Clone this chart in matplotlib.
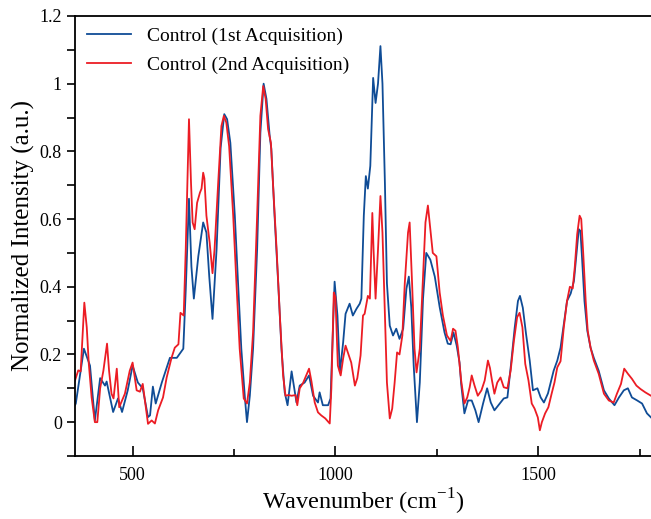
import matplotlib
matplotlib.use("Agg")
import matplotlib.pyplot as plt
from matplotlib.ticker import MultipleLocator, FormatStrFormatter

plt.rcParams['font.family'] = ['Liberation Serif', 'DejaVu Serif']
plt.rcParams['mathtext.fontset'] = 'custom'
plt.rcParams['mathtext.rm'] = 'Liberation Serif'

# spectra (wavenumber, normalized intensity)
wn_1st = [358, 360, 380, 395, 407, 420, 432, 436, 452, 464, 474, 488, 500, 513, 525, 538, 543,
          550, 557, 572, 592, 609, 625, 631, 639, 645, 651, 662, 674, 682, 689, 697, 707, 717,
          726, 733, 741, 752, 760, 768, 777, 782, 789, 797, 807, 815, 823, 830, 838, 842, 850,
          859, 867, 875, 882, 892, 904, 912, 924, 935, 945, 957, 961, 969, 982, 988, 997, 998,
          1005, 1011, 1019, 1025, 1035, 1043, 1052, 1060, 1064, 1070, 1075, 1080, 1086, 1093,
          1099, 1105, 1111, 1116, 1122, 1127, 1134, 1142, 1150, 1158, 1167, 1175, 1181, 1187,
          1193, 1201, 1208, 1216, 1224, 1234, 1245, 1257, 1269, 1277, 1284, 1291, 1299, 1306,
          1310, 1318, 1327, 1336, 1345, 1353, 1364, 1374, 1383, 1392, 1405, 1415, 1424, 1433,
          1442, 1450, 1455, 1462, 1470, 1479, 1487, 1498, 1506, 1514, 1524, 1538, 1547, 1555,
          1563, 1571, 1580, 1588, 1595, 1600, 1604, 1608, 1614, 1621, 1629, 1637, 1649, 1662,
          1674, 1688, 1699, 1711, 1721, 1731, 1744, 1756, 1768, 1778]
int_1st = [0.05, 0.055, 0.217, 0.167, 0.005, 0.13, 0.108, 0.12, 0.03, 0.07, 0.03, 0.094, 0.167,
           0.117, 0.1, 0.015, 0.02, 0.105, 0.055, 0.117, 0.19, 0.19, 0.217, 0.39, 0.66, 0.46,
           0.365, 0.49, 0.59, 0.56, 0.43, 0.305, 0.51, 0.81, 0.91, 0.895, 0.825, 0.61, 0.41,
           0.217, 0.07, 0.0, 0.078, 0.217, 0.51, 0.855, 1.0, 0.955, 0.845, 0.807, 0.61, 0.41,
           0.217, 0.088, 0.05, 0.15, 0.058, 0.108, 0.117, 0.138, 0.078, 0.058, 0.088, 0.05, 0.05,
           0.07, 0.38, 0.415, 0.315, 0.147, 0.235, 0.32, 0.35, 0.315, 0.335, 0.35, 0.365, 0.61,
           0.727, 0.69, 0.757, 1.017, 0.943, 1.0, 1.111, 1.0, 0.707, 0.41, 0.285, 0.256, 0.276,
           0.246, 0.276, 0.394, 0.43, 0.34, 0.167, 0.0, 0.117, 0.365, 0.5, 0.48, 0.43, 0.34,
           0.265, 0.232, 0.23, 0.265, 0.226, 0.176, 0.113, 0.026, 0.064, 0.064, 0.035, 0.0,
           0.055, 0.1, 0.058, 0.035, 0.055, 0.07, 0.073, 0.172, 0.279, 0.358, 0.373, 0.338,
           0.26, 0.182, 0.094, 0.1, 0.073, 0.058, 0.085, 0.152, 0.182, 0.22, 0.29, 0.358, 0.38,
           0.417, 0.507, 0.57, 0.565, 0.485, 0.358, 0.27, 0.22, 0.19, 0.152, 0.094, 0.07, 0.05,
           0.073, 0.094, 0.1, 0.073, 0.064, 0.055, 0.026, 0.014]

wn_2nd = [358, 366, 372, 381, 387, 392, 399, 407, 413, 420, 428, 437, 442, 448, 453, 461, 467,
          481, 493, 500, 510, 518, 525, 533, 538, 547, 555, 563, 575, 584, 596, 604, 613, 618,
          626, 631, 639, 644, 648, 653, 659, 666, 670, 674, 677, 682, 690, 697, 702, 711, 719,
          725, 731, 738, 748, 756, 764, 774, 782, 789, 797, 807, 815, 822, 828, 834, 841, 846,
          855, 863, 871, 877, 884, 892, 902, 906, 912, 920, 928, 935, 941, 949, 957, 965, 975,
          986, 990, 996, 1000, 1006, 1013, 1019, 1025, 1033, 1039, 1048, 1054, 1062, 1068,
          1072, 1080, 1085, 1091, 1094, 1099, 1105, 1111, 1116, 1122, 1127, 1134, 1140, 1146,
          1152, 1158, 1165, 1171, 1179, 1183, 1189, 1195, 1200, 1208, 1216, 1222, 1228, 1234,
          1240, 1249, 1257, 1265, 1275, 1284, 1290, 1296, 1302, 1310, 1318, 1325, 1331, 1336,
          1343, 1351, 1360, 1368, 1376, 1381, 1386, 1392, 1399, 1407, 1415, 1424, 1432, 1440,
          1448, 1454, 1461, 1468, 1476, 1484, 1491, 1499, 1504, 1509, 1517, 1525, 1533, 1540,
          1547, 1555, 1563, 1571, 1578, 1585, 1590, 1596, 1602, 1606, 1611, 1617, 1622, 1629,
          1637, 1649, 1662, 1674, 1686, 1694, 1704, 1712, 1721, 1731, 1742, 1752, 1764, 1778]
int_2nd = [0.123, 0.153, 0.15, 0.353, 0.28, 0.173, 0.073, 0.0, 0.0, 0.1, 0.152, 0.232, 0.152,
           0.084, 0.07, 0.158, 0.044, 0.084, 0.152, 0.176, 0.094, 0.09, 0.113, 0.04, -0.005,
           0.005, -0.004, 0.035, 0.073, 0.132, 0.19, 0.22, 0.23, 0.323, 0.315, 0.51, 0.895,
           0.707, 0.59, 0.57, 0.648, 0.678, 0.69, 0.737, 0.72, 0.61, 0.53, 0.44, 0.51, 0.707,
           0.875, 0.905, 0.885, 0.815, 0.61, 0.41, 0.217, 0.07, 0.055, 0.117, 0.265, 0.61,
           0.905, 0.993, 0.955, 0.866, 0.825, 0.707, 0.51, 0.315, 0.138, 0.078, 0.08, 0.078,
           0.08, 0.05, 0.1, 0.115, 0.138, 0.158, 0.12, 0.058, 0.029, 0.02, 0.011, -0.004, 0.1,
           0.383, 0.37, 0.167, 0.138, 0.188, 0.226, 0.197, 0.176, 0.108, 0.13, 0.197, 0.315,
           0.32, 0.373, 0.365, 0.618, 0.51, 0.365, 0.51, 0.668, 0.56, 0.315, 0.117, 0.011, 0.04,
           0.117, 0.206, 0.2, 0.256, 0.41, 0.56, 0.59, 0.41, 0.217, 0.147, 0.217, 0.43, 0.59,
           0.64, 0.57, 0.5, 0.49, 0.383, 0.315, 0.256, 0.24, 0.276, 0.27, 0.22, 0.123, 0.055,
           0.073, 0.103, 0.138, 0.108, 0.078, 0.094, 0.123, 0.182, 0.16, 0.123, 0.084, 0.117,
           0.132, 0.103, 0.1, 0.152, 0.24, 0.31, 0.323, 0.28, 0.172, 0.123, 0.055, 0.04, 0.014,
           -0.024, 0.0, 0.026, 0.044, 0.084, 0.117, 0.162, 0.18, 0.28, 0.358, 0.4, 0.395,
           0.457, 0.555, 0.61, 0.6, 0.497, 0.358, 0.27, 0.22, 0.182, 0.143, 0.084, 0.064, 0.058,
           0.084, 0.113, 0.158, 0.143, 0.128, 0.108, 0.098, 0.088, 0.078]

fig = plt.figure(figsize=(6.51, 5.19), dpi=100)
ax = fig.add_axes([0.1152, 0.1214, 0.8848, 0.8478])

ax.plot(wn_1st, int_1st, color='#0F4C96', lw=1.3, label='Control (1st Acquisition)')
ax.plot(wn_2nd, int_2nd, color='#EC1C24', lw=1.3, label='Control (2nd Acquisition)')

ax.set_xlim(358, 1778)
ax.set_ylim(-0.1, 1.2)
ax.xaxis.set_major_locator(MultipleLocator(500))
ax.xaxis.set_minor_locator(MultipleLocator(250))
ax.yaxis.set_major_locator(MultipleLocator(0.2))
ax.yaxis.set_minor_locator(MultipleLocator(0.1))
ax.yaxis.set_major_formatter(FormatStrFormatter('%g'))

ax.spines['right'].set_visible(False)
for s in ['left', 'bottom', 'top']:
    ax.spines[s].set_linewidth(1.3)
ax.tick_params(axis='x', which='both', direction='in', labelsize=13, width=1.2, pad=8)
ax.tick_params(axis='x', which='major', length=7)
ax.tick_params(axis='x', which='minor', length=5)
ax.tick_params(axis='y', which='both', direction='out', labelsize=13, width=1.2, length=6)

ax.set_xlabel('Wavenumber (cm$^{\\mathregular{-1}}$)', fontsize=17.5, labelpad=2)
ax.set_ylabel('Normalized Intensity (a.u.)', fontsize=18, labelpad=3)

ax.legend(loc='upper left', frameon=False, fontsize=14, handlelength=2.3,
          borderaxespad=0.2, labelspacing=0.55)

fig.savefig('out.png', dpi=100)
